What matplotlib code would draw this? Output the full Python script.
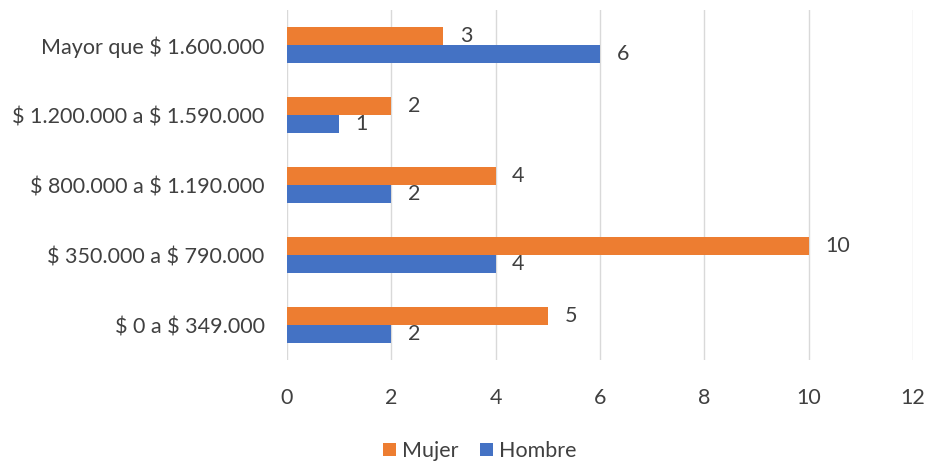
import numpy as np
import matplotlib.pyplot as plt

plt.rcParams['font.family'] = ['Lato', 'DejaVu Sans']
plt.rcParams['text.parse_math'] = False

# data
categorias = ['$ 0 a $ 349.000', '$ 350.000 a $ 790.000', '$ 800.000 a $ 1.190.000',
              '$ 1.200.000 a $ 1.590.000', 'Mayor que $ 1.600.000']
mujer = [5, 10, 4, 2, 3]
hombre = [2, 4, 2, 1, 6]

c_muj = '#ED7D31'
c_hom = '#4472C4'
gris = '#404040'
fs = 15.5

fig = plt.figure(figsize=(9.28, 4.63), dpi=100)
ax = fig.add_axes([0.309, 0.222, 0.675, 0.756])

y = np.arange(len(categorias))
h = 0.26
b1 = ax.barh(y + h/2, mujer, height=h, color=c_muj, label='Mujer', zorder=3)
b2 = ax.barh(y - h/2, hombre, height=h, color=c_hom, label='Hombre', zorder=3)

for bars in (b1, b2):
    for b in bars:
        ax.annotate(str(int(b.get_width())), (b.get_width(), b.get_y() + b.get_height()/2),
                    xytext=(12, 0), textcoords='offset points', ha='left', va='center',
                    fontsize=fs, color=gris)

ax.set_xlim(0, 12)
ax.set_ylim(-0.5, 4.5)
ax.set_xticks(range(0, 13, 2))
ax.set_yticks(y)
ax.set_yticklabels(categorias)
ax.grid(axis='x', color='#D9D9D9', linewidth=1, zorder=0)
for s in ax.spines.values():
    s.set_visible(False)
ax.tick_params(length=0, labelsize=fs, colors=gris)
ax.tick_params(axis='y', pad=16)
ax.tick_params(axis='x', pad=20)

fig.legend(handles=[b1, b2], loc='lower center', bbox_to_anchor=(0.517, -0.038), ncol=2,
           frameon=False, fontsize=fs, labelcolor=gris, handlelength=0.6,
           handleheight=0.6, handletextpad=0.3, columnspacing=1.0)

fig.savefig('out.png', dpi=100)
